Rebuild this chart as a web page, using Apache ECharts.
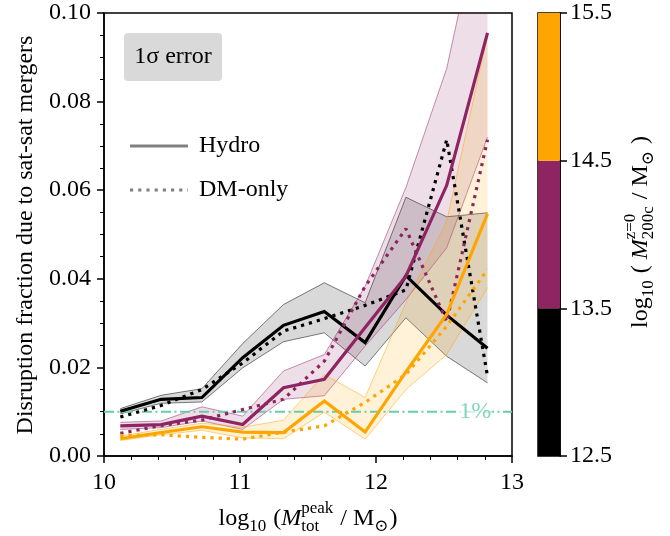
<!DOCTYPE html>
<html>
<head>
<meta charset="utf-8">
<script src="https://cdn.jsdelivr.net/npm/echarts@6/dist/echarts.min.js"></script>
<style>html,body{margin:0;padding:0;background:#fff}#c{width:670px;height:536px}</style>
</head>
<body>
<div id="c"></div>
<script>
// ---------------- data ----------------
const xs = [10.12, 10.42, 10.72, 11.02, 11.32, 11.62, 11.92, 12.22, 12.52, 12.82];

const blackHydro = [0.0101, 0.0128, 0.0132, 0.0222, 0.0295, 0.0326, 0.0256, 0.0407, 0.0318, 0.0243];
const blackLo    = [0.0095, 0.0119, 0.0122, 0.0199, 0.0258, 0.0278, 0.0203, 0.0312, 0.0225, 0.0165];
const blackHi    = [0.0107, 0.0137, 0.0152, 0.0254, 0.0342, 0.0391, 0.0346, 0.0584, 0.0540, 0.0549];
const blackDM    = [0.0088, 0.0114, 0.0150, 0.0210, 0.0282, 0.0310, 0.0340, 0.0375, 0.0714, 0.0180];

const purpleHydro = [0.0068, 0.0071, 0.0090, 0.0071, 0.0154, 0.0173, 0.0290, 0.0406, 0.0611, 0.0955];
const purpleLo    = [0.0060, 0.0064, 0.0079, 0.0060, 0.0128, 0.0136, 0.0248, 0.0353, 0.0470, 0.0720];
const purpleHi    = [0.0076, 0.0079, 0.0111, 0.0090, 0.0192, 0.0229, 0.0383, 0.0606, 0.0875, 0.1300];
const purpleDM    = [0.0051, 0.0069, 0.0081, 0.0105, 0.0128, 0.0214, 0.0383, 0.0513, 0.0303, 0.0714];

const orangeHydro = [0.0039, 0.0053, 0.0066, 0.0054, 0.0053, 0.0124, 0.0054, 0.0190, 0.0320, 0.0547];
const orangeLo    = [0.0035, 0.0048, 0.0058, 0.0041, 0.0039, 0.0099, 0.0038, 0.0150, 0.0229, 0.0380];
const orangeHi    = [0.0045, 0.0060, 0.0074, 0.0065, 0.0081, 0.0184, 0.0132, 0.0346, 0.0530, 0.0950];
const orangeDM    = [0.0046, 0.0048, 0.0042, 0.0038, 0.0054, 0.0068, 0.0121, 0.0184, 0.0293, 0.0421];

const onePercent = 0.01;
const onePercentLabel = '1%';
const xRange = [10, 13];
const yRange = [0, 0.1];

const cbEdges  = [12.5, 13.5, 14.5, 15.5];
const cbColors = ['#000000', '#8f2463', '#ffa500'];

// ---------------- style ----------------
const FONT = '"Liberation Serif","DejaVu Serif",serif';
const FS = 24;
const BLACK = '#000000', PURPLE = '#8f2463', ORANGE = '#ffa500', TEAL = '#66cdaa';

function rgba(hex, a) {
  const n = parseInt(hex.slice(1), 16);
  return 'rgba(' + ((n >> 16) & 255) + ',' + ((n >> 8) & 255) + ',' + (n & 255) + ',' + a + ')';
}
function pairs(arr) { return xs.map((x, i) => [x, arr[i]]); }

const series = [];
function addBand(lo, hi, color) {
  series.push({
    type: 'custom', silent: true, z: 2, clip: true,
    data: pairs(lo),
    encode: { x: 0, y: 1 },
    renderItem: function (params, api) {
      if (params.dataIndex !== 0) return null;
      const top = xs.map((x, i) => api.coord([x, hi[i]]));
      const bot = xs.map((x, i) => api.coord([x, lo[i]]));
      const poly = top.concat(bot.slice().reverse());
      const cs = params.coordSys;
      return {
        type: 'group',
        clipPath: { type: 'rect', shape: { x: cs.x, y: cs.y, width: cs.width, height: cs.height } },
        children: [
          { type: 'polygon', shape: { points: poly }, style: { fill: rgba(color, 0.15), stroke: null } },
          { type: 'polyline', shape: { points: top }, style: { fill: null, stroke: rgba(color, 0.5), lineWidth: 1 } },
          { type: 'polyline', shape: { points: bot }, style: { fill: null, stroke: rgba(color, 0.5), lineWidth: 1 } }
        ]
      };
    }
  });
}
function addLine(arr, color, dotted) {
  series.push({
    type: 'line', data: pairs(arr), symbol: 'none', silent: true, z: 4,
    lineStyle: dotted ? { color: color, width: 3.2, type: [3.2, 5], cap: 'butt' }
                      : { color: color, width: 3.2, join: 'miter' }
  });
}

addBand(blackLo, blackHi, BLACK);
addBand(purpleLo, purpleHi, PURPLE);
addBand(orangeLo, orangeHi, ORANGE);

// 1% reference line
series.push({
  type: 'line', data: [[xRange[0], onePercent], [xRange[1], onePercent]], symbol: 'none', silent: true, z: 3,
  lineStyle: { color: TEAL, width: 2, type: [10, 3.5, 2, 3.5] }
});
series.push({
  type: 'scatter', data: [[12.73, onePercent]], symbolSize: 0, silent: true, z: 3,
  label: {
    show: true, position: 'inside', formatter: onePercentLabel, color: TEAL,
    fontFamily: FONT, fontSize: FS, backgroundColor: 'rgba(255,255,255,0.85)', padding: [0, 1, -2, 1]
  }
});

addLine(blackDM, BLACK, true);
addLine(blackHydro, BLACK, false);
addLine(purpleDM, PURPLE, true);
addLine(purpleHydro, PURPLE, false);
addLine(orangeDM, ORANGE, true);
addLine(orangeHydro, ORANGE, false);

// colorbar
series.push({
  type: 'bar', xAxisIndex: 1, yAxisIndex: 1, stack: 'cb', data: [cbEdges[0]], barWidth: '100%',
  itemStyle: { color: 'rgba(0,0,0,0)' }, silent: true
});
for (let i = 0; i < cbColors.length; i++) {
  series.push({
    type: 'bar', xAxisIndex: 1, yAxisIndex: 1, stack: 'cb', data: [cbEdges[i + 1] - cbEdges[i]], barWidth: '100%',
    itemStyle: { color: cbColors[i] }, silent: true
  });
}

// ---------------- math-like text helper ----------------
const mctx = document.createElement('canvas').getContext('2d');
function fontStr(size, it) { return (it ? 'italic ' : '') + size + 'px ' + FONT; }
function measure(t, size, it) { mctx.font = fontStr(size, it); return mctx.measureText(t).width; }
function mathGroup(segs, cx, cy, rotation) {
  const S = FS, s = Math.round(FS * 0.7);
  let x = 0; const kids = [];
  function put(t, size, it, dy) {
    kids.push({ type: 'text', x: x, y: dy, style: { text: t, font: fontStr(size, it), fill: '#000', align: 'left', verticalAlign: 'middle' } });
  }
  segs.forEach(g => {
    if (g.sup !== undefined || g.sub !== undefined) {
      let w = 0;
      if (g.sup) { put(g.sup, s, g.supIt, -0.42 * S); w = Math.max(w, measure(g.sup, s, g.supIt)); }
      if (g.sub) { put(g.sub, s, false, 0.3 * S); w = Math.max(w, measure(g.sub, s, false)); }
      x += w + 1;
    } else {
      put(g.t, S, g.it, 0);
      x += measure(g.t, S, g.it);
    }
  });
  const W = x;
  kids.forEach(k => { k.x -= W / 2; });
  return { type: 'group', x: cx, y: cy, rotation: rotation || 0, children: kids, silent: true };
}

const xTitle = mathGroup([
  { t: 'log' }, { sub: '10' }, { t: ' (' }, { t: 'M', it: true },
  { sup: 'peak', sub: 'tot' }, { t: ' / M' }, { sub: '\u2299' }, { t: ')' }
], 308, 519, 0);

const cbTitle = mathGroup([
  { t: 'log' }, { sub: '10' }, { t: ' ( ' }, { t: 'M', it: true },
  { sup: 'z=0', sub: '200c' }, { t: ' / M' }, { sub: '\u2299' }, { t: ' )' }
], 641, 232, Math.PI / 2);

const yTitle = {
  type: 'text', x: 26, y: 235, rotation: Math.PI / 2, silent: true,
  style: { text: 'Disruption fraction due to sat-sat mergers', font: FS + 'px ' + FONT, fill: '#000', align: 'center', verticalAlign: 'middle' }
};

const axisLineStyle = { color: '#000', width: 1.5 };
const labelStyle = { fontFamily: FONT, fontSize: FS, color: '#000' };

const option = {
  animation: false,
  backgroundColor: '#fff',
  grid: [
    { left: 104, right: 158, top: 13, bottom: 80, show: true, borderColor: '#000', borderWidth: 1.5, backgroundColor: 'rgba(0,0,0,0)' },
    { left: 538, right: 110, top: 13, bottom: 80, show: true, borderColor: '#000', borderWidth: 1.5, backgroundColor: 'rgba(0,0,0,0)' }
  ],
  xAxis: [
    {
      gridIndex: 0, type: 'value', min: xRange[0], max: xRange[1], interval: 1,
      axisLine: { show: true, onZero: false, lineStyle: axisLineStyle },
      axisTick: { show: true, length: 7, lineStyle: { color: '#000', width: 1.5 } },
      minorTick: { show: true, splitNumber: 5, length: 4, lineStyle: { color: '#000', width: 1 } },
      splitLine: { show: false },
      axisLabel: Object.assign({ margin: 15 }, labelStyle)
    },
    { gridIndex: 1, type: 'category', data: ['cb'], show: false, boundaryGap: true }
  ],
  yAxis: [
    {
      gridIndex: 0, type: 'value', min: yRange[0], max: yRange[1], interval: 0.02,
      axisLine: { show: true, onZero: false, lineStyle: axisLineStyle },
      axisTick: { show: true, length: 7, lineStyle: { color: '#000', width: 1.5 } },
      minorTick: { show: true, splitNumber: 4, length: 4, lineStyle: { color: '#000', width: 1 } },
      splitLine: { show: false },
      axisLabel: Object.assign({ margin: 13, formatter: v => v.toFixed(2) }, labelStyle)
    },
    {
      gridIndex: 1, type: 'value', min: cbEdges[0], max: cbEdges[cbEdges.length - 1], interval: 1, position: 'right',
      axisLine: { show: true, onZero: false, lineStyle: axisLineStyle },
      axisTick: { show: true, length: 7, lineStyle: { color: '#000', width: 1.5 } },
      splitLine: { show: false },
      axisLabel: Object.assign({ margin: 10, formatter: v => v.toFixed(1) }, labelStyle)
    }
  ],
  graphic: [
    { type: 'rect', shape: { x: 124, y: 33, width: 98, height: 48, r: 4 }, style: { fill: '#d9d9d9' }, silent: true, z: 10 },
    { type: 'text', x: 173, y: 57, style: { text: '1\u03c3 error', font: FS + 'px ' + FONT, fill: '#000', align: 'center', verticalAlign: 'middle' }, z: 11, silent: true },
    { type: 'line', shape: { x1: 130, y1: 146, x2: 188, y2: 146 }, style: { stroke: '#808080', lineWidth: 3.2 }, z: 10, silent: true },
    { type: 'text', x: 199, y: 146, style: { text: 'Hydro', font: FS + 'px ' + FONT, fill: '#000', align: 'left', verticalAlign: 'middle' }, z: 10, silent: true },
    { type: 'line', shape: { x1: 130, y1: 190, x2: 188, y2: 190 }, style: { stroke: '#808080', lineWidth: 3.2, lineDash: [3.2, 5] }, z: 10, silent: true },
    { type: 'text', x: 199, y: 190, style: { text: 'DM-only', font: FS + 'px ' + FONT, fill: '#000', align: 'left', verticalAlign: 'middle' }, z: 10, silent: true },
    yTitle,
    xTitle,
    cbTitle
  ],
  series: series
};

const chart = echarts.init(document.getElementById('c'), null, { renderer: 'canvas' });
chart.setOption(option);
</script>
</body>
</html>
